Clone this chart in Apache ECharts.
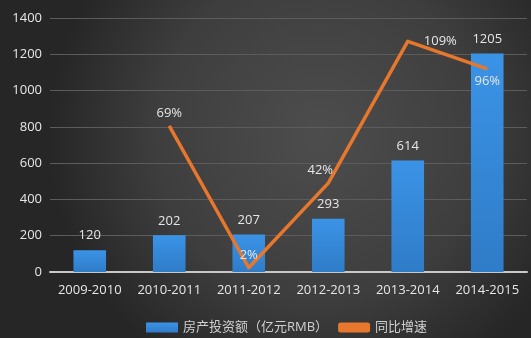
<!DOCTYPE html>
<html><head><meta charset="utf-8">
<script src="https://cdn.jsdelivr.net/npm/echarts@6/dist/echarts.min.js"></script>
<style>html,body{margin:0;padding:0;background:#3a3a3a}#c{width:531px;height:338px}</style>
</head><body><div id="c"></div>
<script>
const categories = ['2009-2010','2010-2011','2011-2012','2012-2013','2013-2014','2014-2015'];
const investValues = [120, 202, 207, 293, 614, 1205];
const growthValues = [null, 69, 2, 42, 109, 96];
const yTicks = [0, 200, 400, 600, 800, 1000, 1200, 1400];
const barName = '房产投资额（亿元RMB）';
const lineName = '同比增速';

const growthLabelPos = [null, 'top', 'top', 'top', 'right', 'bottom'];
const growthLabelOffset = [null, [0, 0], [0, 0], [-8, 0], [10, 0], [0, 0]];

const chart = echarts.init(document.getElementById('c'));
const font = '"Open Sans", "Noto Sans CJK SC", sans-serif';
chart.setOption({
  animation: false,
  backgroundColor: {
    type: 'radial', x: 0.6, y: 0.4, r: 0.8,
    colorStops: [{offset: 0, color: '#4d4d4d'}, {offset: 0.6, color: '#3e3e3e'}, {offset: 1, color: '#262626'}]
  },
  textStyle: {fontFamily: font},
  grid: {left: 50, right: 4, top: 18, bottom: 66},
  legend: {
    left: 141, top: 316, itemWidth: 32, itemHeight: 10, itemGap: 10,
    textStyle: {color: '#d0d0d0', fontSize: 13, fontFamily: font},
    data: [{name: barName, icon: 'rect'}, {name: lineName, icon: 'roundRect'}]
  },
  xAxis: {
    type: 'category', data: categories,
    axisLine: {lineStyle: {color: '#c8c8c8', width: 2}},
    axisTick: {show: false},
    axisLabel: {color: '#e6e6e6', fontSize: 13, margin: 12, interval: 0}
  },
  yAxis: [{
    type: 'value', min: yTicks[0], max: yTicks[yTicks.length - 1], interval: 200,
    axisLine: {show: false}, axisTick: {show: false},
    splitLine: {lineStyle: {color: '#5c5c5c', width: 1}},
    axisLabel: {color: '#e6e6e6', fontSize: 13, margin: 8, formatter: v => String(v)}
  }, {
    type: 'value', min: 0, max: 120, show: false, splitLine: {show: false}
  }],
  series: [{
    name: barName, type: 'bar', data: investValues, barWidth: '41%',
    itemStyle: {color: {type: 'linear', x: 0, y: 0, x2: 0, y2: 1,
      colorStops: [{offset: 0, color: '#3b93e6'}, {offset: 1, color: '#2f7cc8'}]}},
    label: {show: true, position: 'top', distance: 8, color: '#e6e6e6', fontSize: 13}
  }, {
    name: lineName, type: 'line', yAxisIndex: 1,
    data: growthValues.map((v, i) => v == null ? '-' : {value: v, label: {position: growthLabelPos[i], offset: growthLabelOffset[i]}}),
    symbol: 'circle', symbolSize: 0.1, showSymbol: true,
    lineStyle: {color: '#e8772e', width: 3.5, join: 'round'},
    itemStyle: {color: '#e8772e'},
    label: {show: true, formatter: '{c}%', color: '#e6e6e6', fontSize: 13, distance: 6}
  }]
});
</script></body></html>
